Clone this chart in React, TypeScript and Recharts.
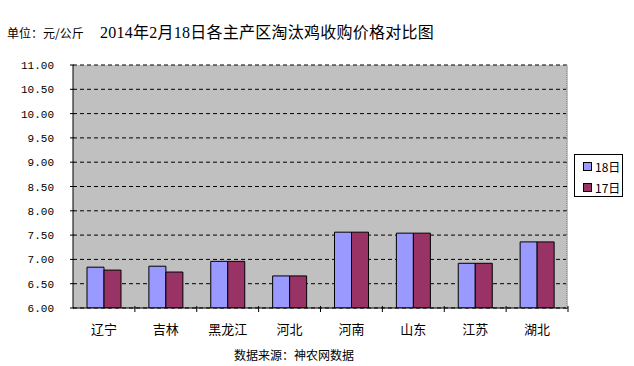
import React from "react";
import { BarChart, Bar, XAxis, YAxis, CartesianGrid } from "recharts";

const categories = ["辽宁", "吉林", "黑龙江", "河北", "河南", "山东", "江苏", "湖北"];
const series18 = [6.84, 6.86, 6.96, 6.66, 7.56, 7.54, 6.92, 7.36];
const series17 = [6.78, 6.74, 6.96, 6.66, 7.56, 7.54, 6.92, 7.36];
const yTicks = [6, 6.5, 7, 7.5, 8, 8.5, 9, 9.5, 10, 10.5, 11];
const seriesNames = ["18日", "17日"];
const title = "2014年2月18日各主产区淘汰鸡收购价格对比图";
const unitText = "单位：元/公斤";
const sourceText = "数据来源：神农网数据";

const data = categories.map((c, i) => ({ name: c, v18: series18[i], v17: series17[i] }));

const W = 634;
const H = 366;
const margin = { top: 65, right: 66, left: 13, bottom: 28 };
const yAxisW = 60;
const plotW = W - margin.left - margin.right - yAxisW;
const band = plotW / categories.length;

const cjk = '"Noto Sans CJK SC", sans-serif';

const XTick = (props: any) => {
  const { x, y, payload } = props;
  return (
    <g>
      <line x1={x + band / 2} x2={x + band / 2} y1={y - 4} y2={y - 10} stroke="#000" strokeWidth={1} />
      <text x={x} y={y + 18} textAnchor="middle" fontSize={13} fontFamily={cjk} fill="#000">
        {payload.value}
      </text>
    </g>
  );
};

const YTick = (props: any) => {
  const { x, y, payload } = props;
  return (
    <g>
      <line x1={x + 1} x2={x + 5} y1={y} y2={y} stroke="#000" strokeWidth={1} />
      <text
        x={x - 15}
        y={y + 4}
        textAnchor="end"
        fontSize={11}
        fontFamily='"Liberation Mono", monospace'
        fill="#000"
      >
        {Number(payload.value).toFixed(2)}
      </text>
    </g>
  );
};

export default function App() {
  return (
    <div style={{ position: "absolute", left: 0, top: 0, width: W, height: H, background: "#fff" }}>
      <BarChart width={W} height={H} data={data} margin={margin} barGap={0} barSize={17}>
        <CartesianGrid
          vertical={false}
          fill="#C0C0C0"
          stroke="#000"
          strokeDasharray="4 3"
          fillOpacity={1}
        />
        <XAxis
          dataKey="name"
          axisLine={{ stroke: "#000" }}
          tickLine={false}
          tick={<XTick />}
          height={30}
          interval={0}
        />
        <YAxis
          width={yAxisW}
          domain={[6, 11]}
          ticks={yTicks}
          interval={0}
          allowDataOverflow
          axisLine={{ stroke: "#000" }}
          tickLine={false}
          tickSize={2}
          tick={<YTick />}
        />
        <Bar dataKey="v18" name={seriesNames[0]} fill="#9999FF" stroke="#000" strokeWidth={1} isAnimationActive={false} />
        <Bar dataKey="v17" name={seriesNames[1]} fill="#993366" stroke="#000" strokeWidth={1} isAnimationActive={false} />
      </BarChart>
      <div style={{ position: "absolute", left: 566, top: 65, width: 0, height: 243, borderRight: "1px dotted #999" }} />
      <div
        style={{
          position: "absolute",
          left: 7,
          top: 24,
          fontSize: 12,
          fontFamily: cjk,
          color: "#000",
          whiteSpace: "nowrap",
        }}
      >
        {unitText}
      </div>
      <div
        style={{
          position: "absolute",
          left: 100,
          top: 19,
          fontSize: 16,
          fontFamily: '"Liberation Serif", "Noto Sans CJK SC", serif',
          color: "#000",
          whiteSpace: "nowrap",
          letterSpacing: 0.25,
        }}
      >
        {title}
      </div>
      <div
        style={{
          position: "absolute",
          left: 0,
          width: 588,
          top: 346,
          textAlign: "center",
          fontSize: 12,
          fontFamily: cjk,
          color: "#000",
          whiteSpace: "nowrap",
        }}
      >
        {sourceText}
      </div>
      <div
        style={{
          position: "absolute",
          left: 574,
          top: 154,
          width: 47,
          height: 41,
          border: "1px solid #000",
          background: "#fff",
          fontFamily: cjk,
          fontSize: 12,
        }}
      >
        {seriesNames.map((n, i) => (
          <div key={n} style={{ position: "absolute", left: 8, top: 3 + i * 21, display: "flex", alignItems: "center", height: 16 }}>
            <span
              style={{
                display: "inline-block",
                width: 7,
                height: 7,
                border: "1px solid #000",
                background: i === 0 ? "#9999FF" : "#993366",
                marginRight: 3,
              }}
            />
            <span style={{ whiteSpace: "nowrap" }}>{n}</span>
          </div>
        ))}
      </div>
    </div>
  );
}
